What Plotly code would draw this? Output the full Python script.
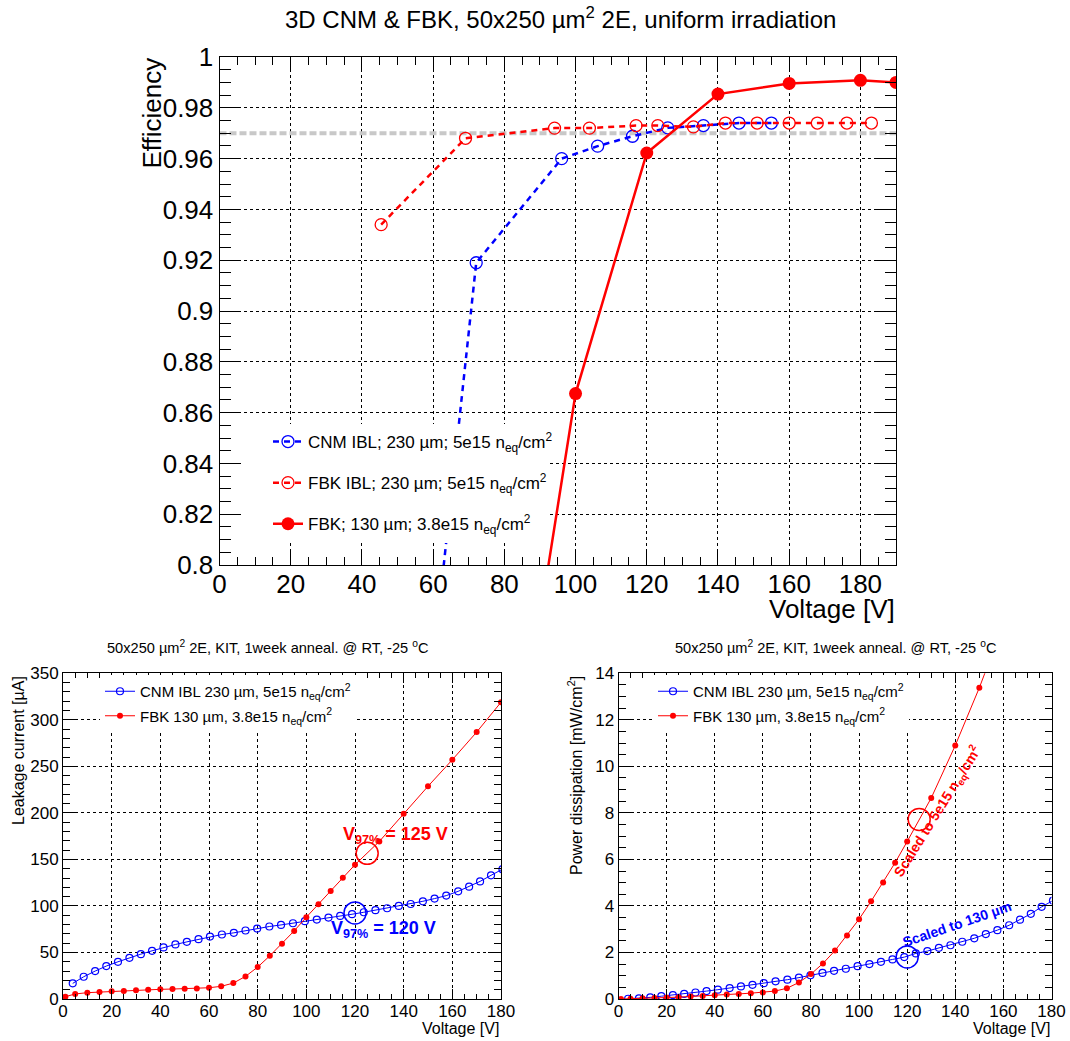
import plotly.graph_objects as go

FONT = "Liberation Sans, Arial, Helvetica, sans-serif"
W, H = 1070, 1041

# ---------------- efficiency vs bias voltage ----------------
cnm_ibl_v = [58.0, 72.1, 96.1, 106.2, 116.0, 125.9, 135.9, 145.9, 155.0]
cnm_ibl_eff = [0.735, 0.919, 0.960, 0.9649, 0.9688, 0.9721, 0.973, 0.974, 0.974]

fbk_ibl_v = [45.4, 69.1, 94.1, 103.9, 117.0, 123.1, 133.1, 142.1, 151.0,
             160.0, 167.9, 176.2, 183.1]
fbk_ibl_eff = [0.934, 0.968, 0.972, 0.972, 0.973, 0.973, 0.9725, 0.974, 0.974,
               0.974, 0.974, 0.974, 0.974]

fbk_v = [80.0, 100.0, 120.0, 140.0, 160.0, 180.0, 190.0]
fbk_eff = [0.69, 0.8675, 0.9622, 0.9854, 0.9896, 0.9908, 0.990]

eff_threshold = 0.97

# ---------------- leakage current ----------------
cnm_v = [4.0, 8.5, 13.2, 17.8, 22.6, 27.3, 32.0, 36.6, 41.3, 46.2, 50.9, 55.7,
         60.4, 65.3, 70.2, 75.0, 79.8, 84.8, 89.6, 94.5, 99.4, 104.3, 109.1,
         113.9, 118.8, 123.6, 128.4, 133.2, 138.0, 142.9, 147.9, 152.7, 157.5,
         162.4, 166.9, 171.4, 175.9, 180.6]
cnm_current = [16.8, 23.9, 30.0, 35.4, 40.0, 44.3, 48.2, 51.8, 55.4, 58.6, 61.4,
               64.3, 67.1, 69.3, 71.1, 73.6, 75.7, 77.9, 79.6, 81.4, 83.6, 85.4,
               87.5, 89.3, 91.1, 93.2, 95.4, 97.5, 100.0, 102.1, 105.0, 107.9,
               111.1, 115.7, 120.7, 126.4, 132.9, 139.5]

fbk_iv_v = [1, 5, 10, 15, 20, 25, 30, 35, 40, 45, 50, 55, 60, 65, 70, 75, 80, 85,
            90, 95, 100, 105, 110, 115, 120, 130, 140, 150, 160, 170, 180]
fbk_current = [2.5, 5.4, 6.8, 7.5, 8.2, 8.6, 9.3, 10.0, 10.4, 10.7, 11.1, 11.4,
               12.1, 13.6, 17.1, 24.3, 34.3, 46.4, 59.3, 73.2, 87.9, 101.8,
               116.1, 130.4, 144.3, 169.3, 199.0, 228.6, 257.1, 286.8, 318.9]

# ---------------- power dissipation ----------------
cnm_power = [0.01, 0.03, 0.07, 0.12, 0.17, 0.22, 0.28, 0.34, 0.40, 0.47, 0.54,
             0.61, 0.68, 0.76, 0.83, 0.92, 1.02, 1.12, 1.21, 1.30, 1.41, 1.50,
             1.60, 1.70, 1.80, 1.96, 2.06, 2.20, 2.31, 2.46, 2.61, 2.79, 2.96,
             3.17, 3.41, 3.66, 3.96, 4.23]

fbk_pw_v = [1, 5, 10, 15, 20, 25, 30, 35, 40, 45, 50, 55, 60, 65, 70, 75, 80, 85,
            90, 95, 100, 105, 110, 115, 120, 130, 140, 150, 160]
fbk_power = [0.0, 0.01, 0.03, 0.04, 0.06, 0.08, 0.11, 0.13, 0.16, 0.19, 0.22,
             0.25, 0.28, 0.34, 0.46, 0.71, 1.07, 1.53, 2.08, 2.73, 3.43, 4.20,
             5.01, 5.86, 6.77, 8.64, 10.9, 13.38, 16.1]

# operating points at 97% efficiency
v97_cnm, v97_fbk = 120, 125
i97_cnm, i97_fbk = 92.5, 156.5
p97_cnm, p97_fbk = 1.81, 7.72

BLUE, RED = "#0000ff", "#ff0000"

fig = go.Figure()

# threshold line
fig.add_trace(go.Scatter(x=[0, 190], y=[eff_threshold, eff_threshold], mode="lines",
                         line=dict(color="#c8c8c8", width=4, dash="7px,3px"),
                         showlegend=False, hoverinfo="skip", xaxis="x", yaxis="y"))

fig.add_trace(go.Scatter(
    x=cnm_ibl_v, y=cnm_ibl_eff, mode="lines+markers",
    name="CNM IBL; 230 µm; 5e15 n<sub>eq</sub>/cm<sup>2</sup>",
    line=dict(color=BLUE, width=2.5, dash="6px,5px"),
    marker=dict(symbol="circle-open", size=12, color=BLUE, line=dict(width=1.3)),
    legend="legend", legendgroup="a", xaxis="x", yaxis="y"))
fig.add_trace(go.Scatter(
    x=fbk_ibl_v, y=fbk_ibl_eff, mode="lines+markers",
    name="FBK IBL; 230 µm; 5e15 n<sub>eq</sub>/cm<sup>2</sup>",
    line=dict(color=RED, width=2.5, dash="6px,5px"),
    marker=dict(symbol="circle-open", size=12, color=RED, line=dict(width=1.3)),
    legend="legend", legendgroup="b", xaxis="x", yaxis="y"))
fig.add_trace(go.Scatter(
    x=fbk_v, y=fbk_eff, mode="lines+markers",
    name="FBK; 130 µm; 3.8e15 n<sub>eq</sub>/cm<sup>2</sup>",
    line=dict(color=RED, width=2.5),
    marker=dict(symbol="circle", size=13, color=RED),
    legend="legend", legendgroup="c", xaxis="x", yaxis="y"))

# leakage current panel
fig.add_trace(go.Scatter(
    x=cnm_v, y=cnm_current, mode="lines+markers",
    name="CNM IBL 230 µm, 5e15 n<sub>eq</sub>/cm<sup>2</sup>",
    line=dict(color=BLUE, width=1),
    marker=dict(symbol="circle-open", size=7, color=BLUE, line=dict(width=1.2)),
    legend="legend2", legendgroup="d", xaxis="x2", yaxis="y2"))
fig.add_trace(go.Scatter(
    x=fbk_iv_v, y=fbk_current, mode="lines+markers",
    name="FBK 130 µm, 3.8e15 n<sub>eq</sub>/cm<sup>2</sup>",
    line=dict(color=RED, width=1),
    marker=dict(symbol="circle", size=6, color=RED),
    legend="legend2", legendgroup="e", xaxis="x2", yaxis="y2"))
fig.add_trace(go.Scatter(
    x=[v97_fbk], y=[i97_fbk], mode="markers", showlegend=False,
    marker=dict(symbol="circle-open", size=22, color=RED, line=dict(width=1.5)),
    xaxis="x2", yaxis="y2"))
fig.add_trace(go.Scatter(
    x=[v97_cnm], y=[i97_cnm], mode="markers", showlegend=False,
    marker=dict(symbol="circle-open", size=22, color=BLUE, line=dict(width=1.5)),
    xaxis="x2", yaxis="y2"))

# power dissipation panel
fig.add_trace(go.Scatter(
    x=cnm_v, y=cnm_power, mode="lines+markers",
    name="CNM IBL 230 µm, 5e15 n<sub>eq</sub>/cm<sup>2</sup>",
    line=dict(color=BLUE, width=1),
    marker=dict(symbol="circle-open", size=7, color=BLUE, line=dict(width=1.2)),
    legend="legend3", legendgroup="f", xaxis="x3", yaxis="y3"))
fig.add_trace(go.Scatter(
    x=fbk_pw_v, y=fbk_power, mode="lines+markers",
    name="FBK 130 µm, 3.8e15 n<sub>eq</sub>/cm<sup>2</sup>",
    line=dict(color=RED, width=1),
    marker=dict(symbol="circle", size=6, color=RED),
    legend="legend3", legendgroup="g", xaxis="x3", yaxis="y3"))
fig.add_trace(go.Scatter(
    x=[v97_fbk], y=[p97_fbk], mode="markers", showlegend=False,
    marker=dict(symbol="circle-open", size=22, color=RED, line=dict(width=1.5)),
    xaxis="x3", yaxis="y3"))
fig.add_trace(go.Scatter(
    x=[v97_cnm], y=[p97_cnm], mode="markers", showlegend=False,
    marker=dict(symbol="circle-open", size=22, color=BLUE, line=dict(width=1.5)),
    xaxis="x3", yaxis="y3"))


def px_x(p):
    return p / W


def px_y(p):
    return 1 - p / H


def axis(domain, rng, dtick, minor, ticklen, minorlen, size, anchor, standoff=0):
    return dict(domain=domain, range=rng, dtick=dtick, tick0=0, anchor=anchor,
                automargin=False, ticklabelstandoff=standoff,
                ticks="inside", ticklen=ticklen, tickwidth=1, tickcolor="black",
                minor=dict(dtick=minor, tick0=0, ticks="inside", ticklen=minorlen,
                           tickwidth=1, tickcolor="black", showgrid=False),
                showgrid=True, gridcolor="black", gridwidth=1, griddash="dot",
                showline=True, linecolor="black", linewidth=1, mirror="ticks",
                zeroline=False, tickfont=dict(family=FONT, size=size, color="black"),
                fixedrange=True)


top_x = [px_x(219.5), px_x(896)]
top_y = [px_y(565), px_y(57)]
bl_x = [px_x(63), px_x(501)]
br_x = [px_x(618.5), px_x(1051.5)]
b_y = [px_y(999), px_y(673.3)]

layout = dict(
    template="none",
    width=W, height=H, margin=dict(l=0, r=0, t=0, b=0, pad=0, autoexpand=False),
    paper_bgcolor="white", plot_bgcolor="white",
    font=dict(family=FONT, color="black"),
    xaxis=axis(top_x, [0, 190], 20, 5, 15, 8, 26, "y", -4),
    yaxis=axis(top_y, [0.8, 1.0], 0.02, 0.005, 21, 11, 26, "x"),
    xaxis2=axis(bl_x, [0, 180], 20, 5, 10, 5, 17, "y2", -3),
    yaxis2=axis(b_y, [0, 350], 50, 10, 13, 7, 17, "x2"),
    xaxis3=axis(br_x, [0, 180], 20, 5, 10, 5, 17, "y3", -3),
    yaxis3=axis(b_y, [0, 14], 2, 0.5, 13, 7, 17, "x3"),
    legend=dict(x=px_x(268), y=px_y(424), xanchor="left", yanchor="top",
                bgcolor="rgba(255,255,255,0)", borderwidth=0, tracegroupgap=16,
                font=dict(family=FONT, size=17, color="black")),
    legend2=dict(x=px_x(100), y=px_y(675), xanchor="left", yanchor="top",
                 bgcolor="white", borderwidth=0, tracegroupgap=2,
                 font=dict(family=FONT, size=15, color="black")),
    legend3=dict(x=px_x(653), y=px_y(675), xanchor="left", yanchor="top",
                 bgcolor="white", borderwidth=0, tracegroupgap=2,
                 font=dict(family=FONT, size=15, color="black")),
    hovermode=False,
)
fig.update_layout(**layout)

# blank box behind the efficiency legend: grid hidden, axis ticks kept
fig.add_shape(type="rect", xref="paper", yref="paper", layer="between",
              x0=px_x(220.5), x1=px_x(549), y0=px_y(543), y1=px_y(424),
              line=dict(width=0), fillcolor="white")
fig.add_shape(type="rect", xref="paper", yref="paper", layer="above",
              x0=px_x(241), x1=px_x(549), y0=px_y(543), y1=px_y(424),
              line=dict(width=0), fillcolor="white")


def note(text, x, y, size, xanchor="center", **kw):
    base = dict(text=text, x=x, y=y, xref="paper", yref="paper", showarrow=False,
                xanchor=xanchor, yanchor="middle",
                font=dict(family=FONT, size=size, color="black"))
    base.update(kw)
    fig.add_annotation(**base)


note("3D CNM &amp; FBK, 50x250 µm<sup>2</sup> 2E, uniform irradiation",
     px_x(560), px_y(18), 24)
note("Efficiency", px_x(151.5), px_y(113), 26, textangle=-90)
note("Voltage [V]", px_x(897), px_y(609), 26, xanchor="right")

sub_title = "50x250 µm<sup>2</sup> 2E, KIT, 1week anneal. @ RT, -25 <sup>o</sup>C"
note(sub_title, px_x(267.5), px_y(647), 14.6)
note(sub_title, px_x(836), px_y(647), 14.6)
note("Leakage current [µA]", px_x(18), px_y(751), 16, textangle=-90)
note("Power dissipation [mW/cm<sup>2</sup>]", px_x(575), px_y(776), 16, textangle=-90)
note("Voltage [V]", px_x(501), px_y(1028), 16, xanchor="right")
note("Voltage [V]", px_x(1051.5), px_y(1028), 16, xanchor="right")

# operating-point labels
fig.add_annotation(text="<b>V<sub>97%</sub> = 125 V</b>", x=114.3, y=176,
                   xref="x2", yref="y2", xanchor="left", yanchor="middle",
                   showarrow=False, font=dict(family=FONT, size=18, color=RED))
fig.add_annotation(text="<b>V<sub>97%</sub> = 120 V</b>", x=109.3, y=75,
                   xref="x2", yref="y2", xanchor="left", yanchor="middle",
                   showarrow=False, font=dict(family=FONT, size=18, color=BLUE))
fig.add_annotation(text="<b>Scaled to 5e15 n<sub>eq</sub>/cm<sup>2</sup></b>",
                   x=132.7, y=8.07, xref="x3", yref="y3", textangle=-58,
                   xanchor="center", yanchor="middle",
                   showarrow=False, font=dict(family=FONT, size=14, color=RED))
fig.add_annotation(text="<b>Scaled to 130 µm</b>", x=140.8, y=3.22,
                   xref="x3", yref="y3", textangle=-19,
                   xanchor="center", yanchor="middle", showarrow=False,
                   font=dict(family=FONT, size=14, color=BLUE))

fig.write_html("out.html")
